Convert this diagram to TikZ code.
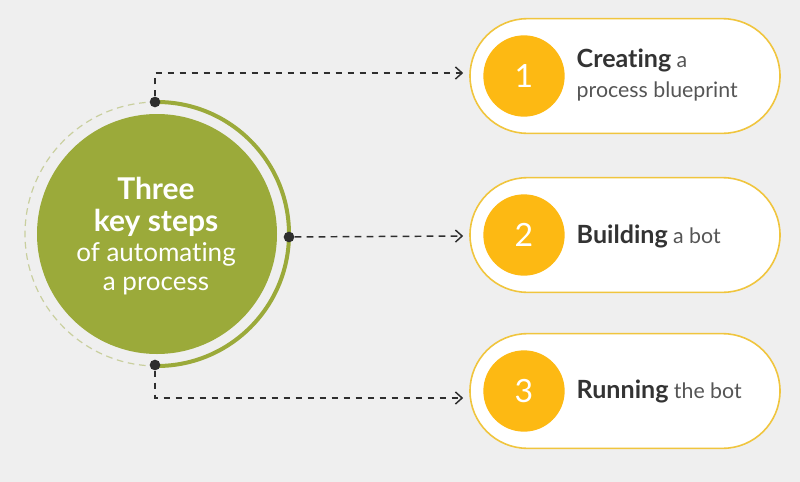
\documentclass[tikz,border=0pt]{standalone}
\usepackage{fontspec}
\setmainfont{Lato}[Ligatures=NoCommon]
\usetikzlibrary{arrows.meta,calc}
\definecolor{bg}{HTML}{EFEFEF}
\definecolor{olive}{HTML}{9BAA3A}
\definecolor{lightolive}{HTML}{C9CF9E}
\definecolor{pillborder}{HTML}{F0C53E}
\definecolor{amber}{HTML}{FDB913}
\definecolor{ink}{HTML}{2E2E2E}
\definecolor{txt}{HTML}{555555}
\definecolor{txtb}{HTML}{333333}
\newcommand{\pillbold}[1]{\textcolor{txtb}{\fontsize{18.8}{22.5}\selectfont\bfseries #1}}
\begin{document}
\begin{tikzpicture}[x=0.75pt,y=-0.75pt,
  pill/.style={draw=pillborder,line width=1.2pt,fill=white,rounded corners=43pt,minimum width=232.5pt,minimum height=86pt},
  numdisk/.style={circle,fill=amber,minimum size=61pt,inner sep=0pt,text=white,font=\fontsize{24}{24}\selectfont},
  dot/.style={circle,fill=ink,minimum size=8pt,inner sep=0pt},
  link/.style={ink,line width=1.1pt,dash pattern=on 5pt off 4pt,-{Straight Barb[length=5pt,width=9pt]}},
  pilltext/.style={anchor=west,text=txt,align=left,font=\fontsize{16}{22.5}\selectfont}
]
\fill[bg] (0,0) rectangle (800,482);
\useasboundingbox (0,0) rectangle (800,482);
% central circle
\coordinate (c) at (157,234);
\draw[lightolive,line width=0.9pt,dash pattern=on 5pt off 3.5pt] ($(c)+(0,-132)$) arc[start angle=90,end angle=270,radius=99pt];
\draw[olive,line width=3pt] ($(c)+(0,-132)$) arc[start angle=90,end angle=-90,radius=99pt];
\node[circle,fill=olive,minimum size=180pt,inner sep=0pt] (main) at (c) {};
\node[text=white,align=center,font=\fontsize{19.5}{25}\selectfont] (maintext) at (156,236)
  {{\fontsize{22.5}{25}\selectfont\bfseries Three}\\[-0.5pt]{\fontsize{22.5}{25}\selectfont\bfseries key steps}\\[-3pt]of automating\\[-3pt]a process};
\node[dot] (d1) at (155,102) {};
\node[dot] (d2) at (289,237) {};
\node[dot] (d3) at (155,365) {};
% pills
\node[pill] (p1) at (625,76) {};
\node[pill] (p2) at (625,235) {};
\node[pill] (p3) at (625,391) {};
\node[numdisk] (n1) at (524,76) {1};
\node[numdisk] (n2) at (524,235) {2};
\node[numdisk] (n3) at (524,391) {3};
\node[pilltext] (t1) at (572,75) {\pillbold{Creating} a\\process blueprint};
\node[pilltext] (t2) at (572,236) {\pillbold{Building} a bot};
\node[pilltext] (t3) at (572,391) {\pillbold{Running} the bot};
% connectors
\coordinate (a1) at ($(p1.west)+(-6,-3)$);
\coordinate (a2) at ($(p2.west)+(-6,1)$);
\coordinate (a3) at ($(p3.west)+(-6,7)$);
\draw[link] (d1) |- (a1);
\draw[link] (d2) -- (a2);
\draw[link] (d3) |- (a3);
\end{tikzpicture}
\end{document}
